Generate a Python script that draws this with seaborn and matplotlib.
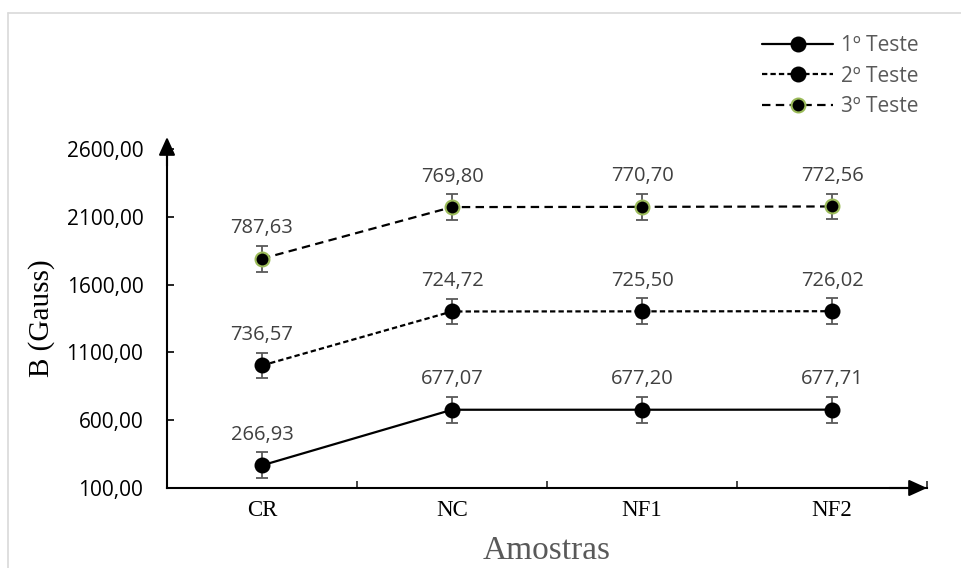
import numpy as np
import pandas as pd
import matplotlib
matplotlib.use("Agg")
import matplotlib.pyplot as plt
import seaborn as sns
from matplotlib.lines import Line2D

# Magnetic field per sample for three tests (stacked line chart)
amostras = ["CR", "NC", "NF1", "NF2"]
teste1 = [266.93, 677.07, 677.20, 677.71]
teste2 = [736.57, 724.72, 725.50, 726.02]
teste3 = [787.63, 769.80, 770.70, 772.56]
series_names = ["1º Teste", "2º Teste", "3º Teste"]
erro = 95
y_ticks = [100, 600, 1100, 1600, 2100, 2600]

sns.set_style("white")
plt.rcParams["font.family"] = ["Open Sans", "DejaVu Sans"]

valores = np.array([teste1, teste2, teste3])
acumulado = valores.cumsum(axis=0)
rows = []
for nome, vals, acc in zip(series_names, valores, acumulado):
    for a, v, c in zip(amostras, vals, acc):
        rows.append(dict(Amostra=a, Teste=nome, valor=v, B=c))
df = pd.DataFrame(rows)

fig = plt.figure(figsize=(9.61, 5.68), dpi=100)
ax = fig.add_axes([167 / 961, 1 - 488 / 568, 760 / 961, 339 / 568])

estilos = {
    "1º Teste": dict(linestyle="-", mec="black"),
    "2º Teste": dict(linestyle=(0, (2.4, 1.4)), mec="black"),
    "3º Teste": dict(linestyle=(0, (3.8, 2.4)), mec="#9bbb59"),
}

for nome in series_names:
    sub = df[df["Teste"] == nome]
    st = estilos[nome]
    ax.errorbar(sub["Amostra"], sub["B"], yerr=erro, fmt="none",
                ecolor="#595959", elinewidth=1.3, capsize=4, capthick=1.3,
                zorder=2)
    sns.lineplot(data=sub, x="Amostra", y="B", ax=ax, color="black",
                 linewidth=1.6, linestyle=st["linestyle"], marker="o",
                 markersize=10, markerfacecolor="black",
                 markeredgecolor=st["mec"], markeredgewidth=1.5, zorder=3)
    for a, v, c in zip(sub["Amostra"], sub["valor"], sub["B"]):
        ax.annotate(f"{v:.2f}".replace(".", ","), (a, c), xytext=(0, 22),
                    textcoords="offset points", ha="center", va="center",
                    fontsize=14.5, color="#404040")

ax.set_xlim(-0.5, 3.5)
ax.set_ylim(100, 2600)
ax.set_yticks(y_ticks)
ax.set_yticklabels([f"{t:.2f}".replace(".", ",") for t in y_ticks])
ax.set_xticks(range(len(amostras)))
ax.set_xticklabels(amostras, fontfamily="Liberation Serif", fontsize=16.5)
ax.set_xticks(np.arange(0.5, len(amostras), 1.0), minor=True)

for s in ["top", "right"]:
    ax.spines[s].set_visible(False)
for s in ["left", "bottom"]:
    ax.spines[s].set_linewidth(1.5)
    ax.spines[s].set_color("black")

ax.tick_params(axis="y", direction="in", length=5, width=1.2, labelsize=15,
               pad=17, colors="black", left=True)
ax.tick_params(axis="x", which="major", length=0, pad=9, colors="black")
ax.tick_params(axis="x", which="minor", direction="in", length=5, width=1.2,
               bottom=True)

ax.set_xlabel("Amostras", fontfamily="Liberation Serif", fontsize=24,
              color="#595959", va="center")
ax.xaxis.set_label_coords(0.5, (488 - 551) / 339)
ax.set_ylabel("B (Gauss)", fontfamily="Liberation Serif", fontsize=21,
              color="black")
ax.yaxis.set_label_coords((55 - 167) / 760, 0.5)

# Axis arrows
arrow = dict(arrowstyle="-|>,head_length=1.1,head_width=0.5", color="black",
             lw=1.5, shrinkA=0, shrinkB=0)
ax.annotate("", xy=(1.0, 0), xytext=(0.95, 0), xycoords="axes fraction",
            arrowprops=arrow, annotation_clip=False)
ax.annotate("", xy=(0, (488 - 137) / 339), xytext=(0, 0.95),
            xycoords="axes fraction", arrowprops=arrow, annotation_clip=False)

# Legend
handles = [
    Line2D([], [], color="black", lw=1.6, linestyle=estilos[n]["linestyle"],
           marker="o", markersize=10, markerfacecolor="black",
           markeredgecolor=estilos[n]["mec"], markeredgewidth=1.5)
    for n in series_names
]
leg = fig.legend(handles, series_names, loc="upper left",
                 bbox_to_anchor=(752 / 961, 1 - 25 / 568),
                 frameon=False, fontsize=15, handlelength=3.4,
                 handletextpad=0.35, labelspacing=0.45, borderpad=0)
for t in leg.get_texts():
    t.set_color("#595959")

# Chart area border
fig.add_artist(Line2D([8 / 961, 1], [1 - 13 / 568] * 2,
                      transform=fig.transFigure, color="#d9d9d9", lw=1.2))
fig.add_artist(Line2D([8 / 961] * 2, [0, 1 - 13 / 568],
                      transform=fig.transFigure, color="#d9d9d9", lw=1.2))

fig.savefig("out.png", dpi=100)
